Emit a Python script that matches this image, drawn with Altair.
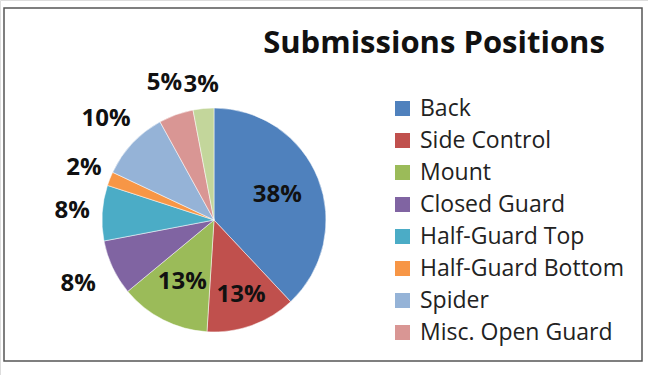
import altair as alt
import pandas as pd

names = ["Back", "Side Control", "Mount", "Closed Guard", "Half-Guard Top",
         "Half-Guard Bottom", "Spider", "Misc. Open Guard", "Other"]
values = [38, 13, 13, 8, 8, 2, 10, 5, 3]
legend_names = names[:8]

colors = ["#4F81BD", "#C0504D", "#9BBB59", "#8064A2", "#4BACC6",
          "#F79646", "#95B3D7", "#D99694", "#C3D69B"]
label_radius = [68, 80, 70, 150, 142, 140, 148, 146, 136]

df = pd.DataFrame({
    "name": names,
    "value": values,
    "order": list(range(len(names))),
    "label": [f"{v}%" for v in values],
    "r": label_radius,
})

CX, CY, R = 214, 220, 112
FONT = "Open Sans"
theta_scale = alt.Scale(domain=[0, sum(values)])

border = alt.Chart(pd.DataFrame({"a": [0]})).mark_rect(
    fill="white", stroke="#555555", strokeWidth=1.5
).encode(x=alt.value(4), x2=alt.value(642), y=alt.value(8), y2=alt.value(361))

pie = alt.Chart(df).mark_arc(outerRadius=R, stroke="white", strokeWidth=0.5).encode(
    theta=alt.Theta("value:Q", stack=True, scale=theta_scale),
    order=alt.Order("order:Q"),
    color=alt.Color(
        "name:N",
        scale=alt.Scale(domain=names, range=colors),
        sort=names,
        legend=alt.Legend(
            title=None, values=legend_names, orient="none",
            legendX=391, legendY=97,
            symbolType="square", symbolSize=225, symbolStrokeWidth=0,
            labelFont=FONT, labelFontSize=23, labelColor="#222222",
            labelOffset=6, rowPadding=8, labelLimit=300,
        ),
    ),
    x=alt.value(CX), y=alt.value(CY),
)

labels = alt.Chart(df).transform_window(
    cum="sum(value)", sort=[alt.SortField("order")], frame=[None, 0]
).transform_calculate(
    mid="datum.cum - datum.value / 2"
).mark_text(
    font=FONT, fontSize=24, fontWeight="bold", color="#111111",
    align="center", baseline="middle",
).encode(
    theta=alt.Theta("mid:Q", stack=None, scale=theta_scale),
    radius=alt.Radius("r:Q", scale=None),
    text="label:N",
    x=alt.value(CX), y=alt.value(CY),
)

title = alt.Chart(pd.DataFrame({"t": ["Submissions Positions"]})).mark_text(
    font=FONT, fontSize=31, fontWeight="bold", color="#111111",
    align="center", baseline="middle",
).encode(text="t:N", x=alt.value(434), y=alt.value(44))

chart = alt.layer(border, pie, labels, title).properties(
    width=648, height=375, padding=0, autosize=alt.AutoSizeParams(type="none"),
).configure_view(stroke=None).configure(background="white")

chart.save("out.html", embed_options={"renderer": "svg", "actions": False})
